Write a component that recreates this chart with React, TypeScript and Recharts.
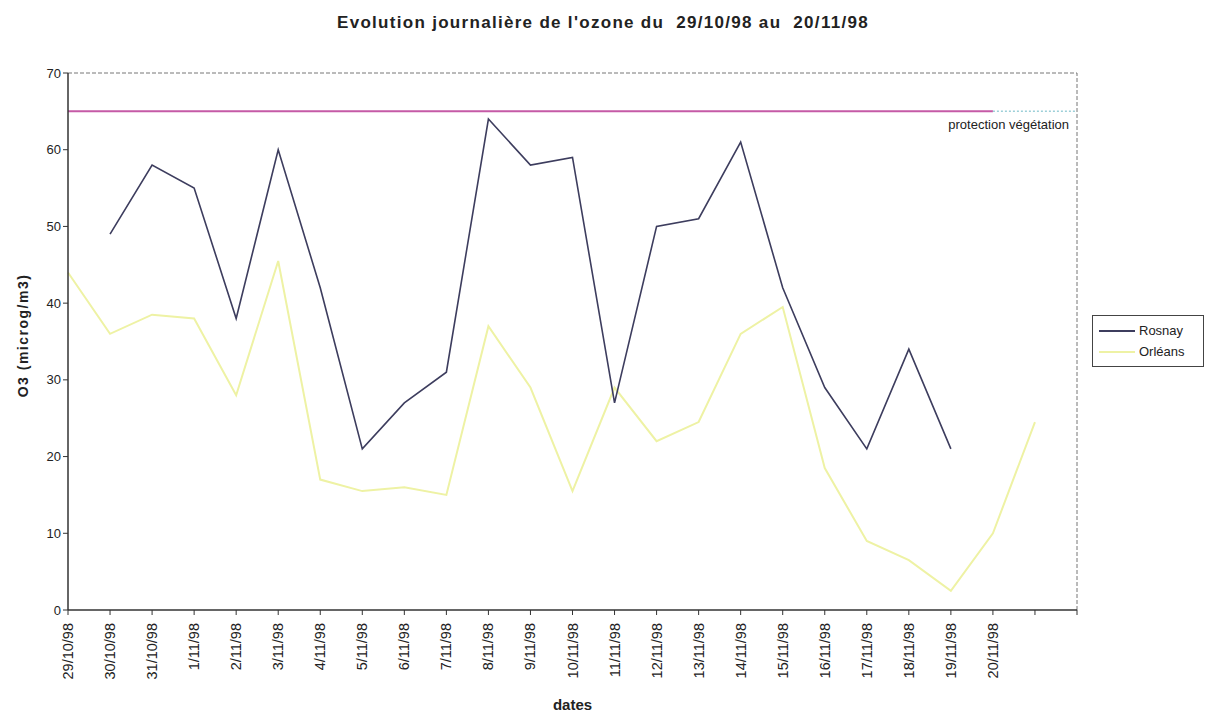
import React from 'react';
import { LineChart, Line, XAxis, YAxis, ReferenceLine } from 'recharts';

const dates = ['29/10/98','30/10/98','31/10/98','1/11/98','2/11/98','3/11/98','4/11/98','5/11/98','6/11/98','7/11/98','8/11/98','9/11/98','10/11/98','11/11/98','12/11/98','13/11/98','14/11/98','15/11/98','16/11/98','17/11/98','18/11/98','19/11/98','20/11/98','',' '];
const rosnay = [null,49,58,55,38,60,42,21,27,31,64,58,59,27,50,51,61,42,29,21,34,21,null,null,null];
const orleans = [44,36,38.5,38,28,45.5,17,15.5,16,15,37,29,15.5,29,22,24.5,36,39.5,18.5,9,6.5,2.5,10,24.5,null];
const protection = [65,65,65,65,65,65,65,65,65,65,65,65,65,65,65,65,65,65,65,65,65,65,65,null,null];
const protectionExt = [null,null,null,null,null,null,null,null,null,null,null,null,null,null,null,null,null,null,null,null,null,null,65,65,65];
const yTicks = [0,10,20,30,40,50,60,70];
const seriesNames = ['Rosnay', 'Orléans'];

const data = dates.map((d, i) => ({
  date: d,
  Rosnay: rosnay[i],
  'Orléans': orleans[i],
  protection: protection[i],
  protectionExt: protectionExt[i],
}));

const FONT = '"Liberation Sans", Arial, sans-serif';
const ROSNAY_C = '#3d3d5e';
const ORLEANS_C = '#eef2a4';
const colors: Record<string, string> = { Rosnay: ROSNAY_C, 'Orléans': ORLEANS_C };

const DateTick = (props: any) => {
  const { x, y, payload } = props;
  return (
    <text
      x={0}
      y={0}
      transform={`translate(${x + 5},${y + 6}) rotate(-90)`}
      textAnchor="end"
      fontSize={14.5}
      fontFamily={FONT}
      fill="#222"
    >
      {payload.value}
    </text>
  );
};

export default function App() {
  return (
    <div style={{ position: 'absolute', left: 0, top: 0, width: 1206, height: 715, background: '#fff' }}>
      <LineChart
        width={1206}
        height={715}
        data={data}
        margin={{ top: 73, right: 129, bottom: 5, left: 8 }}
        style={{ position: 'absolute', left: 0, top: 0 }}
      >
        <XAxis
          dataKey="date"
          interval={0}
          height={100}
          tick={<DateTick />}
          tickSize={5}
          axisLine={{ stroke: '#333', strokeWidth: 1.5 }}
          tickLine={{ stroke: '#333' }}
          label={{ value: 'dates', position: 'insideBottom', offset: 0, style: { fontFamily: FONT, fontWeight: 'bold', fontSize: 15, fill: '#222' } }}
        />
        <YAxis
          width={60}
          domain={[0, 70]}
          ticks={yTicks}
          interval={0}
          tickSize={5}
          axisLine={{ stroke: '#333', strokeWidth: 1.5 }}
          tickLine={{ stroke: '#333' }}
          tick={{ fontSize: 13, fontFamily: FONT, fill: '#222' }}
          label={{ value: 'O3 (microg/m3)', angle: -90, position: 'center', dx: -15, dy: -6, style: { fontFamily: FONT, fontWeight: 'bold', fontSize: 14, letterSpacing: 1.5, fill: '#222' } }}
        />
        <ReferenceLine y={70} stroke="#777" strokeDasharray="4 2" />
        <ReferenceLine x=" " stroke="#777" strokeDasharray="4 2" />
        <ReferenceLine
          y={65}
          stroke="none"
          strokeOpacity={0}
          label={{ value: 'protection végétation', position: 'insideTopRight', offset: 8, style: { fontFamily: FONT, fontSize: 13, fill: '#222' } }}
        />
        <Line dataKey="protection" stroke="#c55aa6" strokeWidth={2} dot={false} isAnimationActive={false} legendType="none" />
        <Line dataKey="protectionExt" stroke="#9ccfd8" strokeWidth={1.5} strokeDasharray="2 2" dot={false} isAnimationActive={false} legendType="none" />
        <Line dataKey="Orléans" stroke={ORLEANS_C} strokeWidth={2} dot={false} isAnimationActive={false} />
        <Line dataKey="Rosnay" stroke={ROSNAY_C} strokeWidth={1.6} dot={false} isAnimationActive={false} />
      </LineChart>
      <div
        style={{
          position: 'absolute',
          left: 0,
          top: 13,
          width: 1206,
          textAlign: 'center',
          fontFamily: FONT,
          fontWeight: 'bold',
          fontSize: 17,
          letterSpacing: 1.3,
          color: '#222',
          whiteSpace: 'pre',
        }}
      >
        {"Evolution journalière de l'ozone du  29/10/98 au  20/11/98"}
      </div>
      <div
        style={{
          position: 'absolute',
          left: 1092,
          top: 315,
          width: 112,
          border: '1px solid #444',
          background: '#fff',
          padding: '4px 0 4px 6px',
          fontFamily: FONT,
          fontSize: 13,
          color: '#222',
          boxSizing: 'border-box',
        }}
      >
        {seriesNames.map((n) => (
          <div key={n} style={{ display: 'flex', alignItems: 'center', height: 21 }}>
            <svg width={36} height={6} style={{ marginRight: 4 }}>
              <line x1={0} y1={3} x2={36} y2={3} stroke={colors[n]} strokeWidth={2} />
            </svg>
            <span>{n}</span>
          </div>
        ))}
      </div>
    </div>
  );
}
